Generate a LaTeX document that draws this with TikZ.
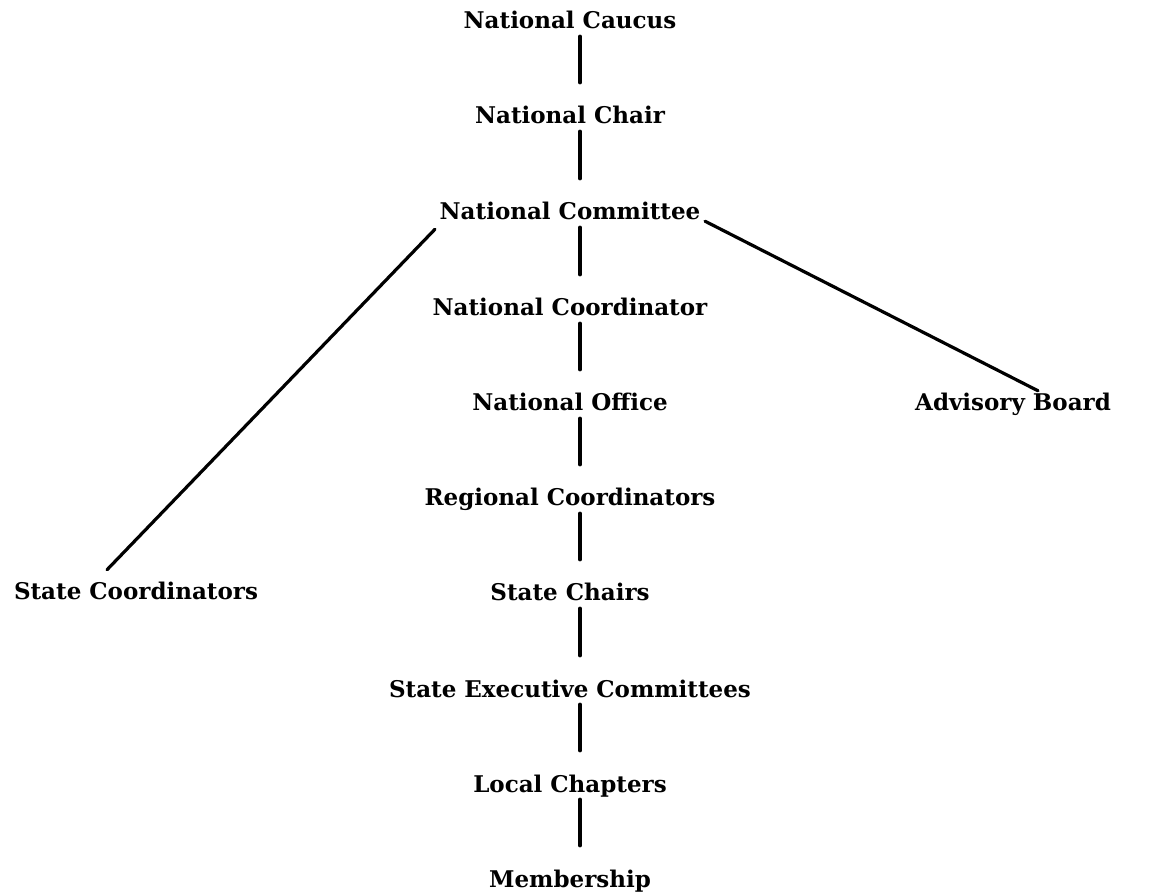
\documentclass[tikz,border=0pt]{standalone}
\usepackage{fontspec}
\setmainfont{DejaVu Serif}
\begin{document}
\begin{tikzpicture}[x=1pt,y=1pt,
  unit/.style={anchor=base, inner sep=0pt, text height=17pt, text depth=0pt,
               font=\fontsize{23}{26}\selectfont\bfseries},
  link/.style={line width=3.2pt, line cap=round},
  down/.style={link, shorten <=7pt, shorten >=24pt}]
\useasboundingbox (0,0) rectangle (1153,892);

% main chain (baselines measured from the top edge)
\node[unit] (caucus) at (570,892-29)  {National Caucus};
\node[unit] (chair)  at (570,892-124) {National Chair};
\node[unit] (comm)   at (570,892-220) {National Committee};
\node[unit] (ncoord) at (570,892-316) {National Coordinator};
\node[unit] (office) at (570,892-411) {National Office};
\node[unit] (region) at (570,892-506) {Regional Coordinators};
\node[unit] (schair) at (570,892-601) {State Chairs};
\node[unit] (sexec)  at (570,892-697) {State Executive Committees};
\node[unit] (local)  at (570,892-792) {Local Chapters};
\node[unit] (member) at (570,892-887) {Membership};

% side branches
\node[unit] (scoord) at (136,892-600) {State Coordinators};
\node[unit] (advis)  at (1013,892-411) {Advisory Board};

% vertical links, set slightly right of the text centres
\foreach \a/\b in {caucus/chair, chair/comm, comm/ncoord, ncoord/office,
                   office/region, region/schair, schair/sexec, sexec/local,
                   local/member}
  \draw[down] ([xshift=10pt]\a.south) -- ([xshift=10pt]\b.north);

% diagonal links from the committee
\draw[link] ([xshift=-135pt,yshift=-9pt]comm.south)
         -- ([xshift=-29pt,yshift=13pt]scoord.north);
\draw[link] ([xshift=135pt,yshift=-1pt]comm.south)
         -- ([xshift=25pt,yshift=3pt]advis.north);
\end{tikzpicture}
\end{document}
